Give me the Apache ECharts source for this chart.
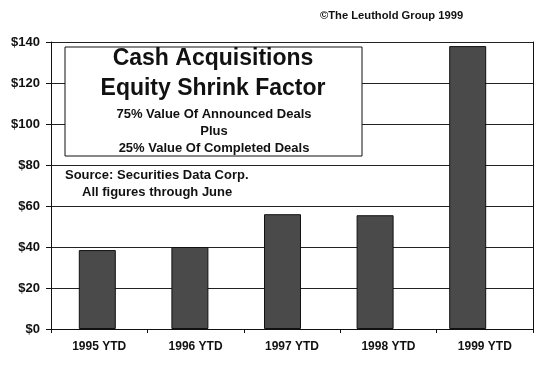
<!DOCTYPE html>
<html>
<head>
<meta charset="utf-8">
<script src="https://cdn.jsdelivr.net/npm/echarts@6/dist/echarts.min.js"></script>
<style>html,body{margin:0;padding:0;background:#fff}#c{width:540px;height:367px}</style>
</head>
<body>
<div id="c"></div>
<script>
var categories = ['1995 YTD', '1996 YTD', '1997 YTD', '1998 YTD', '1999 YTD'];
var values = [38.5, 40, 56, 55.5, 138];
var yTicks = [0, 20, 40, 60, 80, 100, 120, 140];
var titleLines = ['Cash Acquisitions', 'Equity Shrink Factor'];
var subLines = ['75% Value Of Announced Deals', 'Plus', '25% Value Of Completed Deals'];
var sourceLines = ['Source: Securities Data Corp.', 'All figures through June'];
var copyright = '\u00A9The Leuthold Group 1999';

var FONT = '"Liberation Sans", Arial, sans-serif';
var chart = echarts.init(document.getElementById('c'), null, {renderer: 'canvas'});
var yMin = yTicks[0], yMax = yTicks[yTicks.length - 1], yStep = yTicks[1] - yTicks[0];

chart.setOption({
  animation: false,
  backgroundColor: '#fff',
  grid: [
    {left: 51, right: 7, top: 42, bottom: 38},
    {left: 51, width: 463, top: 42, bottom: 38}
  ],
  xAxis: [
    {
      type: 'category', gridIndex: 0, data: categories,
      axisLine: {show: true, lineStyle: {color: '#111', width: 1}},
      axisTick: {show: true, length: 4, lineStyle: {color: '#111'}},
      axisLabel: {color: '#111', fontFamily: FONT, fontWeight: 'bold', fontSize: 12, margin: 12},
      splitLine: {show: false}
    },
    {
      type: 'category', gridIndex: 1, data: categories,
      axisLine: {show: false}, axisTick: {show: false}, axisLabel: {show: false}
    }
  ],
  yAxis: [
    {
      type: 'value', gridIndex: 0, min: yMin, max: yMax, interval: yStep,
      axisLine: {show: true, lineStyle: {color: '#111', width: 1}},
      axisTick: {show: true, length: 5, lineStyle: {color: '#111'}},
      axisLabel: {color: '#111', fontFamily: FONT, fontWeight: 'bold', fontSize: 13, margin: 11,
        formatter: function (v) { return '$' + v; }},
      splitLine: {show: true, lineStyle: {color: '#222', width: 1}}
    },
    {
      type: 'value', gridIndex: 0, position: 'right', min: yMin, max: yMax, interval: yStep,
      axisLine: {show: true, lineStyle: {color: '#111', width: 1}},
      axisTick: {show: false}, axisLabel: {show: false}, splitLine: {show: false}
    },
    {
      type: 'value', gridIndex: 1, min: yMin, max: yMax, interval: yStep,
      axisLine: {show: false}, axisTick: {show: false}, axisLabel: {show: false}, splitLine: {show: false}
    }
  ],
  series: [{
    type: 'bar', xAxisIndex: 1, yAxisIndex: 2, data: values, barWidth: 37,
    itemStyle: {color: '#4a4a4a', borderColor: '#111', borderWidth: 1}
  }],
  graphic: [
    {type: 'text', left: 320, top: 10, style: {text: copyright, fill: '#111', font: 'bold 11.2px ' + FONT}},
    {type: 'rect', shape: {x: 65, y: 47, width: 297, height: 109}, style: {fill: '#fff', stroke: '#111', lineWidth: 1}, z: 10},
    {type: 'text', x: 213, y: 59, style: {text: titleLines[0], fill: '#111', font: 'bold 23px ' + FONT, textAlign: 'center', textVerticalAlign: 'middle'}, z: 11},
    {type: 'text', x: 213, y: 89, style: {text: titleLines[1], fill: '#111', font: 'bold 23px ' + FONT, textAlign: 'center', textVerticalAlign: 'middle'}, z: 11},
    {type: 'text', x: 214, y: 114, style: {text: subLines[0], fill: '#111', font: 'bold 13px ' + FONT, textAlign: 'center', textVerticalAlign: 'middle'}, z: 11},
    {type: 'text', x: 214, y: 131, style: {text: subLines[1], fill: '#111', font: 'bold 13px ' + FONT, textAlign: 'center', textVerticalAlign: 'middle'}, z: 11},
    {type: 'text', x: 214, y: 148, style: {text: subLines[2], fill: '#111', font: 'bold 13px ' + FONT, textAlign: 'center', textVerticalAlign: 'middle'}, z: 11},
    {type: 'text', x: 65, y: 175, style: {text: sourceLines[0], fill: '#111', font: 'bold 13px ' + FONT, textVerticalAlign: 'middle'}, z: 11},
    {type: 'text', x: 82, y: 192, style: {text: sourceLines[1], fill: '#111', font: 'bold 13px ' + FONT, textVerticalAlign: 'middle'}, z: 11}
  ]
});
</script>
</body>
</html>
